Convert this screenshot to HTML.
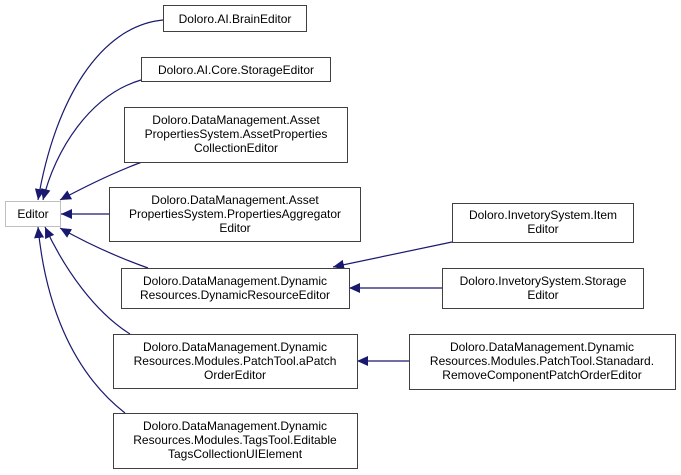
<!DOCTYPE html>
<html><head><style>
body{margin:0;background:#fff;}
svg{display:block;}
text{font-family:"Liberation Sans",Arial,sans-serif;font-size:12px;fill:#000;}
</style></head><body>
<svg width="681" height="475" viewBox="0 0 681 475" xmlns="http://www.w3.org/2000/svg">
<defs>
<marker id="a" markerWidth="12" markerHeight="10" refX="11" refY="5" orient="auto" markerUnits="userSpaceOnUse">
<path d="M0,0 L11,5 L0,10 Z" fill="#191970"/>
</marker>
</defs>
<g fill="none" stroke="#191970" stroke-width="1.2" marker-end="url(#a)">
<path d="M163,20 C100,26 55,100 38,200"/>
<path d="M141,80 C90,95 55,150 43,200"/>
<path d="M142,162 C115,172 88,185 60,200"/>
<path d="M109,214 L61,214"/>
<path d="M148,268 C120,258 90,245 60,228"/>
<path d="M130,334 C95,312 65,270 45,227"/>
<path d="M125,413 C70,370 45,300 38,227"/>
<path d="M452,242 L333,267"/>
<path d="M442,288 L349,288"/>
<path d="M409,361 L357,361"/>
</g>
<g fill="#fff" stroke="#404040" stroke-width="1">
<rect x="5.5" y="201.5" width="55" height="25" stroke="#bfbfbf"/>
<rect x="163.5" y="5.5" width="143" height="26"/>
<rect x="141.5" y="57.5" width="189" height="24"/>
<rect x="124.5" y="107.5" width="223" height="55"/>
<rect x="109.5" y="187.5" width="251" height="54"/>
<rect x="121.5" y="268.5" width="228" height="40"/>
<rect x="113.5" y="334.5" width="244" height="54"/>
<rect x="113.5" y="413.5" width="244" height="55"/>
<rect x="452.5" y="203.5" width="181" height="39"/>
<rect x="442.5" y="268.5" width="201" height="40"/>
<rect x="409.5" y="334.5" width="266" height="55"/>
</g>
<g text-anchor="middle">
<text x="33" y="218">Editor</text>
<text x="235" y="23">Doloro.AI.BrainEditor</text>
<text x="236" y="74">Doloro.AI.Core.StorageEditor</text>
<text x="236" y="124">Doloro.DataManagement.Asset</text>
<text x="236" y="138">PropertiesSystem.AssetProperties</text>
<text x="236" y="152">CollectionEditor</text>
<text x="235" y="204">Doloro.DataManagement.Asset</text>
<text x="235" y="218">PropertiesSystem.PropertiesAggregator</text>
<text x="235" y="232">Editor</text>
<text x="235" y="285">Doloro.DataManagement.Dynamic</text>
<text x="235" y="299">Resources.DynamicResourceEditor</text>
<text x="235" y="351">Doloro.DataManagement.Dynamic</text>
<text x="235" y="365">Resources.Modules.PatchTool.aPatch</text>
<text x="235" y="379">OrderEditor</text>
<text x="235" y="430">Doloro.DataManagement.Dynamic</text>
<text x="235" y="444">Resources.Modules.TagsTool.Editable</text>
<text x="235" y="458">TagsCollectionUIElement</text>
<text x="543" y="219">Doloro.InvetorySystem.Item</text>
<text x="543" y="233">Editor</text>
<text x="543" y="285">Doloro.InvetorySystem.Storage</text>
<text x="543" y="299">Editor</text>
<text x="542" y="351">Doloro.DataManagement.Dynamic</text>
<text x="542" y="365">Resources.Modules.PatchTool.Stanadard.</text>
<text x="542" y="379">RemoveComponentPatchOrderEditor</text>
</g>
</svg>
</body></html>
